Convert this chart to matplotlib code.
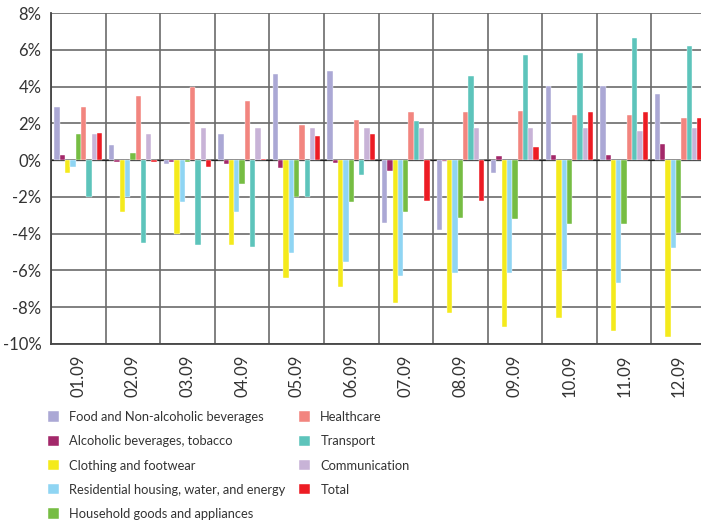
import matplotlib
import numpy as np

matplotlib.use('Agg')
import matplotlib.pyplot as plt
import matplotlib.ticker as mticker

# ── data (monthly change, %) ─────────────────────────────────────────────────

months = ['01.09', '02.09', '03.09', '04.09', '05.09', '06.09',
          '07.09', '08.09', '09.09', '10.09', '11.09', '12.09']

food = [2.9, 0.8, -0.2, 1.4, 4.7, 4.85, -3.4, -3.8, -0.7, 4.05, 4.05, 3.6]
alcohol = [0.3, -0.1, -0.1, -0.2, -0.45, -0.15, -0.6, -0.05, 0.25, 0.3, 0.3, 0.9]
clothing = [-0.7, -2.8, -4.0, -4.6, -6.4, -6.9, -7.75, -8.3, -9.05, -8.6, -9.3, -9.6]
housing = [-0.4, -2.0, -2.3, -2.8, -5.05, -5.55, -6.3, -6.15, -6.15, -6.0, -6.7, -4.8]
household = [1.4, 0.4, -0.1, -1.3, -2.0, -2.3, -2.8, -3.15, -3.2, -3.5, -3.5, -3.95]
healthcare = [2.9, 3.5, 3.95, 3.2, 1.9, 2.2, 2.6, 2.6, 2.65, 2.45, 2.45, 2.3]
transport = [-2.0, -4.5, -4.6, -4.75, -2.0, -0.8, 2.1, 4.6, 5.7, 5.8, 6.65, 6.2]
communication = [1.4, 1.4, 1.75, 1.75, 1.75, 1.75, 1.75, 1.75, 1.75, 1.75, 1.6, 1.75]
total = [1.45, -0.1, -0.35, 0.05, 1.3, 1.4, -2.2, -2.2, 0.7, 2.6, 2.6, 2.3]

series = [
    ('Food and Non-alcoholic beverages', food, '#aba8d5'),
    ('Alcoholic beverages, tobacco', alcohol, '#a3286a'),
    ('Clothing and footwear', clothing, '#f4ea1c'),
    ('Residential housing, water, and energy', housing, '#8fd5f3'),
    ('Household goods and appliances', household, '#76bd43'),
    ('Healthcare', healthcare, '#f2857f'),
    ('Transport', transport, '#5dc4bb'),
    ('Communication', communication, '#c8b3d7'),
    ('Total', total, '#ed1c24'),
]

_GRID = '#6b6b6b'
_TEXT = '#333333'

plt.rcParams['font.family'] = ['Lato', 'DejaVu Sans']

fig = plt.figure(figsize=(7.01, 5.2), dpi=100)
# plot area runs past the right edge, as in the source image
ax = fig.add_axes([51 / 701, 1 - 344 / 520, 655 / 701, 331 / 520])

x = np.arange(len(months))
width = 0.097
n = len(series)
handles = []
for i, (name, vals, color) in enumerate(series):
    offs = (i - (n - 1) / 2) * width
    bars = ax.bar(x + offs, vals, width, color=color, label=name,
                  edgecolor='white', linewidth=0.3, zorder=3)
    handles.append(bars)

ax.set_xlim(-0.5, len(months) - 0.5)
ax.set_ylim(-10, 8)
ax.yaxis.set_major_locator(mticker.MultipleLocator(2))
ax.yaxis.set_major_formatter(mticker.FuncFormatter(lambda v, _: f'{v:.0f}%'))

ax.set_xticks(x)
ax.set_xticklabels(months, rotation=90)
ax.set_xticks(np.arange(-0.5, len(months)), minor=True)
ax.grid(which='minor', axis='x', color=_GRID, linewidth=1.2, zorder=0)
ax.grid(which='major', axis='y', color=_GRID, linewidth=1.2, zorder=0)
ax.grid(which='major', axis='x', visible=False)
ax.axhline(0, color='#222222', linewidth=0.9, zorder=2)

ax.tick_params(axis='both', which='both', length=0, labelsize=12, colors=_TEXT)
ax.tick_params(axis='y', pad=7)
ax.tick_params(axis='x', pad=8)
for side in ['top', 'right']:
    ax.spines[side].set_visible(False)
for side in ['left', 'bottom']:
    ax.spines[side].set_color('#444444')
    ax.spines[side].set_linewidth(1.3)

# two legend columns placed separately so each column starts where it should
leg_kw = dict(loc='upper left', frameon=False, fontsize=9.3, handlelength=0.85,
              handleheight=0.85, handletextpad=0.8, labelspacing=0.95,
              borderaxespad=0, borderpad=0)
for hs, x0 in [(handles[:5], 48), (handles[5:], 299)]:
    leg = fig.legend(handles=hs, bbox_to_anchor=(x0 / 701, 1 - 411 / 520), **leg_kw)
    for t in leg.get_texts():
        t.set_color(_TEXT)

fig.savefig('out.png', dpi=100)
